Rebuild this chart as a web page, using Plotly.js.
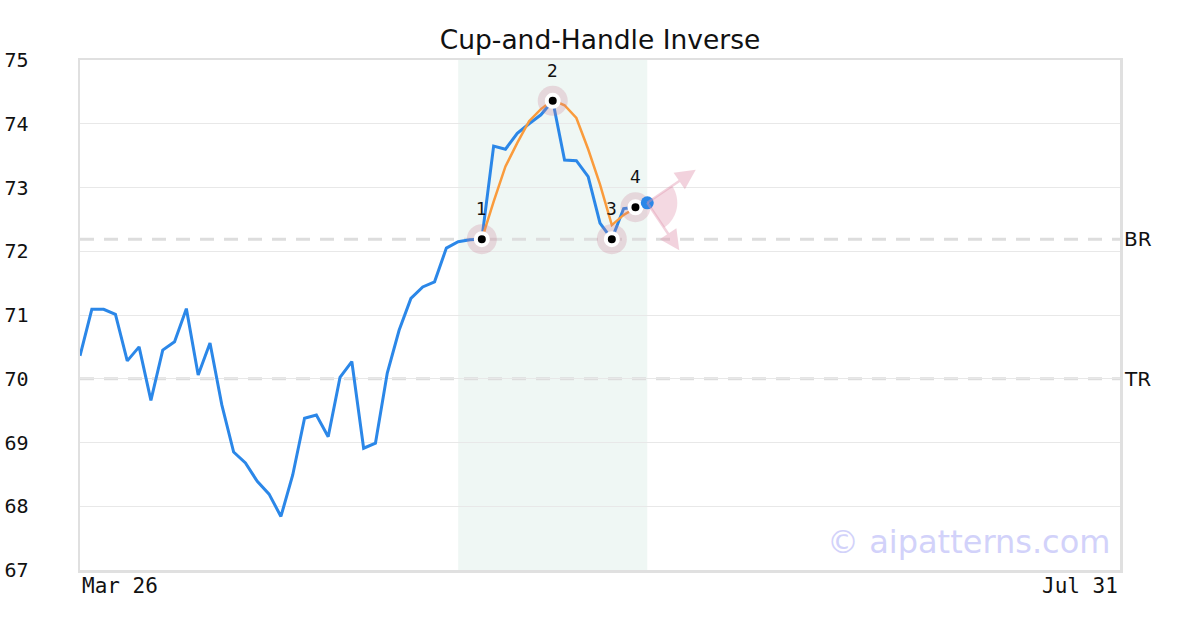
<!DOCTYPE html>
<html>
<head>
<meta charset="utf-8">
<script src="https://cdn.plot.ly/plotly-3.0.1.min.js"></script>
<style>html,body{margin:0;padding:0;background:#fff}#chart{width:1200px;height:630px}</style>
</head>
<body>
<div id="chart"></div>
<script>
// ---- data ----
const chartTitle = 'Cup-and-Handle Inverse';
const xTickIdx = [0, 88];
const xTickLabels = ['Mar 26', 'Jul 31'];
const prices = [70.36, 71.09, 71.09, 71.01, 70.28, 70.50, 69.66, 70.45, 70.58, 71.10,
                70.06, 70.56, 69.59, 68.85, 68.68, 68.39, 68.19, 67.84, 68.49, 69.38,
                69.43, 69.09, 70.02, 70.27, 68.91, 68.99, 70.09, 70.76, 71.26, 71.44,
                71.52, 72.05, 72.15, 72.18, 72.19, 73.65, 73.60, 73.85, 74.00, 74.14,
                74.36, 73.43, 73.42, 73.17, 72.44, 72.19, 72.67, 72.69, 72.76];
const fitStart = 34;
const fitValues = [72.19, 72.78, 73.33, 73.70, 74.04, 74.23, 74.37, 74.29, 74.09, 73.60, 73.05, 72.41, 72.57, 72.68];
const pivotIdx = [34, 40, 45, 47];
const pivotVal = [72.19, 74.36, 72.19, 72.69];
const pivotLabels = ['1', '2', '3', '4'];
const levelNames = ['BR', 'TR'];
const levelValues = [72.19, 70.00];
const zoneStart = 32, zoneEnd = 48;
const yRange = [67, 75];
const watermark = '© aipatterns.com';

// ---- build ----
const xIdx = prices.map((_, i) => i);
const fitIdx = fitValues.map((_, i) => fitStart + i);
const lastIdx = xIdx[xIdx.length - 1];
const lastVal = prices[prices.length - 1];

const traces = [
  {x: xIdx, y: prices, mode: 'lines', line: {color: '#2b87e8', width: 3}, hoverinfo: 'skip'},
  {x: fitIdx, y: fitValues, mode: 'lines', line: {color: '#fa9b3c', width: 2.5}, hoverinfo: 'skip'},
  {x: pivotIdx, y: pivotVal, mode: 'markers', marker: {size: 30, color: 'rgba(200,120,145,0.25)'}, hoverinfo: 'skip'},
  {x: pivotIdx, y: pivotVal, mode: 'markers', marker: {size: 12, color: '#000', line: {color: '#fff', width: 4}}, hoverinfo: 'skip'},
  {x: [lastIdx], y: [lastVal], mode: 'markers', marker: {size: 13, color: '#2b87e8'}, hoverinfo: 'skip'}
];

// wedge polygon in pixel offsets (y up)
const wedge = ['M0,0'];
const r = 30, a0 = -56, a1 = 34;
for (let k = 0; k <= 30; k++) {
  const a = (a0 + (a1 - a0) * k / 30) * Math.PI / 180;
  wedge.push('L' + (r * Math.cos(a)).toFixed(2) + ',' + (r * Math.sin(a)).toFixed(2));
}
wedge.push('Z');

const shapes = [
  {type: 'rect', xref: 'x', yref: 'paper', x0: zoneStart, x1: zoneEnd, y0: 0, y1: 1,
   fillcolor: '#eff7f4', line: {width: 0}, layer: 'below'},
  {type: 'path', xref: 'x', yref: 'y', xsizemode: 'pixel', ysizemode: 'pixel',
   xanchor: lastIdx, yanchor: lastVal, path: wedge.join(' '),
   fillcolor: 'rgba(215,120,150,0.28)', line: {width: 0}, layer: 'between'}
];
levelValues.forEach(v => shapes.push({
  type: 'line', xref: 'paper', x0: 0, x1: 1, yref: 'y', y0: v, y1: v,
  line: {color: '#dddddd', width: 3, dash: '14px,10px'}, layer: 'between'
}));

const annotations = [];
pivotIdx.forEach((xi, i) => annotations.push({
  x: xi, y: pivotVal[i], xref: 'x', yref: 'y', text: pivotLabels[i], showarrow: false,
  yshift: 30, font: {family: 'DejaVu Sans', size: 17, color: '#111'}
}));
levelNames.forEach((n, i) => annotations.push({
  x: 1, xref: 'paper', xanchor: 'left', xshift: 2, y: levelValues[i], yref: 'y', yanchor: 'middle',
  text: n, showarrow: false, font: {family: 'DejaVu Sans', size: 20, color: '#111'}
}));
xTickIdx.forEach((xi, i) => annotations.push({
  x: xi, xref: 'x', xanchor: i === 0 ? 'left' : 'right', y: 0, yref: 'paper', yanchor: 'top', yshift: -2,
  text: xTickLabels[i], showarrow: false, font: {family: 'DejaVu Sans Mono', size: 21, color: '#111'}
}));
annotations.push({
  x: 1, xref: 'paper', xanchor: 'right', xshift: -8, y: 0.055, yref: 'paper', yanchor: 'middle',
  text: watermark, showarrow: false, font: {family: 'DejaVu Sans', size: 32, color: '#d2d2fa'}
});
// arrows
[[50, -34], [33, 49]].forEach(o => annotations.push({
  x: lastIdx, y: lastVal, xref: 'x', yref: 'y', text: '', showarrow: true,
  ax: o[0], ay: o[1], arrowside: 'start', startarrowhead: 2, startarrowsize: 1.6,
  arrowwidth: 2.5, arrowcolor: 'rgba(225,150,175,0.42)', startstandoff: 0, standoff: 0
}));

const layout = {
  width: 1200, height: 630,
  margin: {l: 80, r: 80, t: 60, b: 60},
  paper_bgcolor: '#fff', plot_bgcolor: '#fff',
  font: {family: 'DejaVu Sans', color: '#111'},
  showlegend: false,
  title: {text: chartTitle, font: {family: 'DejaVu Sans', size: 26.5, color: '#111'},
          x: 0.5, xanchor: 'center', y: 1 - 40 / 630, yref: 'container', yanchor: 'middle'},
  xaxis: {range: [0, 88], showgrid: false, zeroline: false, showticklabels: false, ticks: '',
          showline: true, mirror: true, linecolor: '#e0e0e0', linewidth: 2.5, fixedrange: true},
  yaxis: {range: yRange, dtick: 1, tick0: 67, showgrid: true, gridcolor: '#e8e8e8', gridwidth: 1,
          zeroline: false, ticks: '', showline: true, mirror: true, linecolor: '#e0e0e0', linewidth: 2.5,
          tickfont: {family: 'DejaVu Sans Mono', size: 20, color: '#111'}, ticklabelstandoff: 45, fixedrange: true},
  shapes: shapes,
  annotations: annotations
};

Plotly.newPlot('chart', traces, layout, {staticPlot: true, displayModeBar: false});
</script>
</body>
</html>
